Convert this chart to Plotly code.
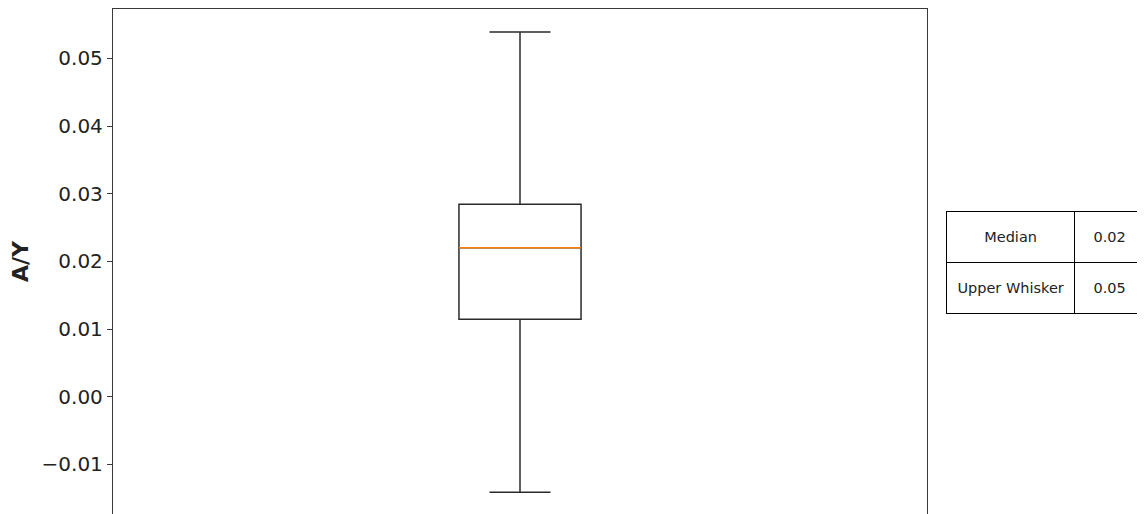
import plotly.graph_objects as go

# Box statistics (A/Y)
box_position = [1]
lower_whisker = [-0.01414]
q1_values = [0.01143]
median_values = [0.02201]
q3_values = [0.02842]
upper_whisker = [0.05389]

# Summary table
table_labels = ["Median", "Upper Whisker"]
table_values = ["0.02", "0.05"]

y_ticks = [-0.01, 0.0, 0.01, 0.02, 0.03, 0.04, 0.05]

# the page body has an 8px margin, so the figure is 8px smaller than the window
FIG_W, FIG_H = 1137, 506
LEFT, TOP = 105, 1
PAPER_W = FIG_W - LEFT
PAPER_H = FIG_H - TOP
PLOT_W = 814

BOX_WIDTH = 0.15
AXIS_COLOR = "#3a3a3a"
TEXT_COLOR = "#222222"


def cell_text(s):
    # plotly tables have no vertical centering: put an invisible small
    # line above the text to push it down to the middle of the row
    return f'<span style="color:white">.</span><br><span style="font-size:14.5px">{s}</span>'


fig = go.Figure()

fig.add_trace(
    go.Box(
        x=box_position,
        q1=q1_values,
        median=median_values,
        q3=q3_values,
        lowerfence=lower_whisker,
        upperfence=upper_whisker,
        width=BOX_WIDTH,
        whiskerwidth=0.5,
        line=dict(color="#2b2b2b", width=1.5),
        fillcolor="white",
        boxpoints=False,
        showlegend=False,
    )
)

# matplotlib-style orange median line
fig.add_trace(
    go.Scatter(
        x=[box_position[0] - BOX_WIDTH / 2, box_position[0] + BOX_WIDTH / 2],
        y=[median_values[0], median_values[0]],
        mode="lines",
        line=dict(color="#ff7f0e", width=1.5),
        showlegend=False,
        hoverinfo="skip",
    )
)

cell_style = dict(
    align="center",
    height=51,
    line=dict(color="black", width=1.3),
    fill=dict(color="white"),
    font=dict(family="DejaVu Sans", size=10, color=TEXT_COLOR),
)

fig.add_trace(
    go.Table(
        domain=dict(
            x=[(938.5 - LEFT) / PAPER_W, 1.0],
            y=[0.0, 1 - (203.7 - TOP) / PAPER_H],
        ),
        columnwidth=[128.5, 70],
        header=dict(
            values=[cell_text(table_labels[0]), cell_text(table_values[0])],
            **cell_style,
        ),
        cells=dict(
            values=[[cell_text(table_labels[1])], [cell_text(table_values[1])]],
            **cell_style,
        ),
    )
)

fig.update_layout(
    width=FIG_W,
    height=FIG_H,
    margin=dict(l=LEFT, r=0, t=TOP, b=0, pad=0),
    paper_bgcolor="white",
    plot_bgcolor="white",
    font=dict(family="DejaVu Sans", color=TEXT_COLOR),
    xaxis=dict(
        domain=[0, PLOT_W / PAPER_W],
        range=[0.5, 1.5],
        side="top",
        showline=True,
        linecolor=AXIS_COLOR,
        linewidth=1.3,
        showticklabels=False,
        ticks="",
        showgrid=False,
        zeroline=False,
    ),
    yaxis=dict(
        range=[-0.01734, 0.05729],
        tickvals=y_ticks,
        tickformat=".2f",
        ticks="outside",
        ticklen=5,
        tickwidth=1.2,
        tickcolor=AXIS_COLOR,
        tickfont=dict(size=20),
        showline=True,
        mirror=True,
        linecolor=AXIS_COLOR,
        linewidth=1.3,
        showgrid=False,
        zeroline=False,
        automargin=False,
        title=dict(text="<b>A/Y</b>", font=dict(size=22), standoff=7),
    ),
)

fig.write_html("out.html")
